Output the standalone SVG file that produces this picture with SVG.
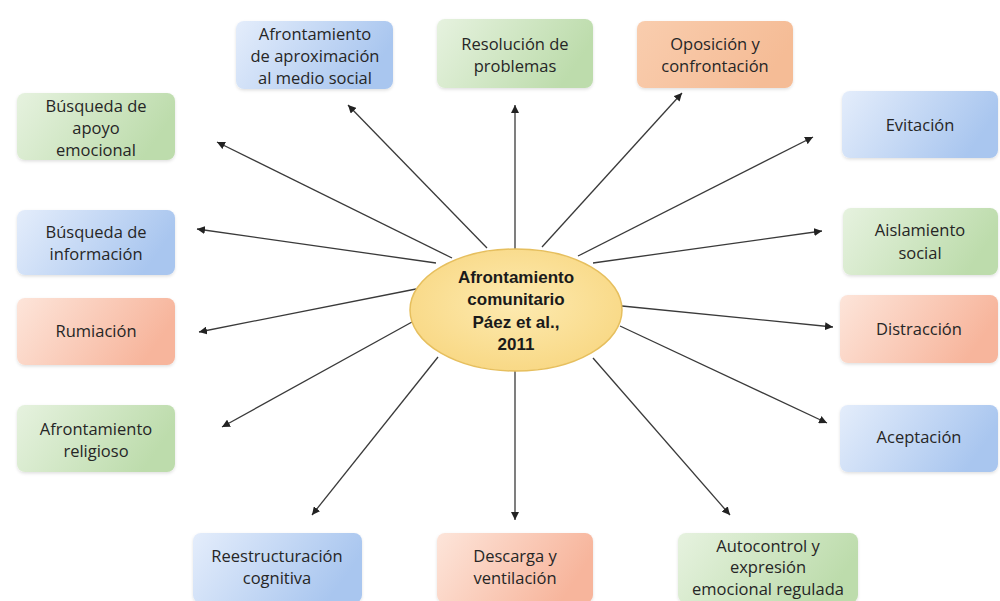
<svg xmlns="http://www.w3.org/2000/svg" width="1000" height="601" viewBox="0 0 1000 601">
  <defs>
    <linearGradient id="gBlue" x1="0" y1="0" x2="1" y2="0.3">
      <stop offset="0" stop-color="#e4edfb"/>
      <stop offset="1" stop-color="#a9c6ef"/>
    </linearGradient>
    <linearGradient id="gGreen" x1="0" y1="0" x2="1" y2="0.3">
      <stop offset="0" stop-color="#e6f2df"/>
      <stop offset="1" stop-color="#bddcac"/>
    </linearGradient>
    <linearGradient id="gRed" x1="0" y1="0" x2="1" y2="0.3">
      <stop offset="0" stop-color="#fde5da"/>
      <stop offset="1" stop-color="#f7b59c"/>
    </linearGradient>
    <linearGradient id="gPeach" x1="0" y1="0" x2="1" y2="0.3">
      <stop offset="0" stop-color="#f9cdae"/>
      <stop offset="1" stop-color="#f5bc96"/>
    </linearGradient>
    <radialGradient id="gCore" cx="0.5" cy="0.45" r="0.6">
      <stop offset="0" stop-color="#fdeab0"/>
      <stop offset="1" stop-color="#f8d782"/>
    </radialGradient>
    <filter id="soft" x="-10%" y="-10%" width="120%" height="130%">
      <feDropShadow dx="0" dy="1.5" stdDeviation="1.5" flood-color="#000" flood-opacity="0.12"/>
    </filter>
    <marker id="arrow" viewBox="0 0 10 10" refX="10" refY="5" markerWidth="8" markerHeight="8" markerUnits="userSpaceOnUse" orient="auto">
      <path d="M0,0 L10,5 L0,10 z" fill="#222"/>
    </marker>
  </defs>
  <style>
    .box { stroke: none; filter: url(#soft); }
    .blue { fill: url(#gBlue); }
    .green { fill: url(#gGreen); }
    .red { fill: url(#gRed); }
    .peach { fill: url(#gPeach); }
    .lbl { font-family: "Open Sans", "Liberation Sans", sans-serif; font-size: 16.5px; font-weight: 500; fill: #262626; text-anchor: middle; }
    .core { font-family: "Liberation Sans", "DejaVu Sans", sans-serif; font-size: 17px; font-weight: bold; fill: #1a1a1a; text-anchor: middle; }
    .link { stroke: #3a3a3a; stroke-width: 1.3; fill: none; marker-end: url(#arrow); }
  </style>

  <rect width="1000" height="601" fill="#ffffff"/>

  <!-- connectors from the central ellipse to each strategy -->
  <g id="connectors">
    <line class="link" x1="487" y1="248" x2="348" y2="105"/>
    <line class="link" x1="452" y1="258" x2="217" y2="142"/>
    <line class="link" x1="515" y1="249" x2="515" y2="105"/>
    <line class="link" x1="542" y1="247" x2="682" y2="93"/>
    <line class="link" x1="578" y1="256" x2="813" y2="137"/>
    <line class="link" x1="436" y1="263" x2="197" y2="229"/>
    <line class="link" x1="416" y1="289" x2="199" y2="332"/>
    <line class="link" x1="593" y1="263" x2="822" y2="231"/>
    <line class="link" x1="622" y1="306" x2="833" y2="327"/>
    <line class="link" x1="620" y1="326" x2="827" y2="423"/>
    <line class="link" x1="593" y1="358" x2="730" y2="515"/>
    <line class="link" x1="515" y1="371" x2="515" y2="520"/>
    <line class="link" x1="438" y1="357" x2="312" y2="515"/>
    <line class="link" x1="412" y1="322" x2="222" y2="427"/>
  </g>

  <g id="core">
    <ellipse cx="516" cy="310" rx="106" ry="61" fill="url(#gCore)" stroke="#e6bf5e" stroke-width="1.5"/>
    <text class="core" x="516" y="283">Afrontamiento</text>
    <text class="core" x="516" y="305">comunitario</text>
    <text class="core" x="516" y="328">Páez et al.,</text>
    <text class="core" x="516" y="350">2011</text>
  </g>

  <g id="aproximacion">
    <rect class="box blue" x="236" y="21" width="157" height="68" rx="8"/>
    <text class="lbl" x="315" y="40">Afrontamiento</text>
    <text class="lbl" x="315" y="62">de aproximación</text>
    <text class="lbl" x="315" y="84">al medio social</text>
  </g>

  <g id="resolucion">
    <rect class="box green" x="437" y="19" width="156" height="69" rx="8"/>
    <text class="lbl" x="515" y="50">Resolución de</text>
    <text class="lbl" x="515" y="72">problemas</text>
  </g>

  <g id="oposicion">
    <rect class="box peach" x="637" y="21" width="156" height="67" rx="8"/>
    <text class="lbl" x="715" y="50">Oposición y</text>
    <text class="lbl" x="715" y="72">confrontación</text>
  </g>

  <g id="evitacion">
    <rect class="box blue" x="842" y="91" width="156" height="67" rx="8"/>
    <text class="lbl" x="920" y="131">Evitación</text>
  </g>

  <g id="apoyo-emocional">
    <rect class="box green" x="17" y="93" width="158" height="67" rx="8"/>
    <text class="lbl" x="96" y="112">Búsqueda de</text>
    <text class="lbl" x="96" y="134">apoyo</text>
    <text class="lbl" x="96" y="156">emocional</text>
  </g>

  <g id="informacion">
    <rect class="box blue" x="17" y="210" width="158" height="65" rx="8"/>
    <text class="lbl" x="96" y="238">Búsqueda de</text>
    <text class="lbl" x="96" y="260">información</text>
  </g>

  <g id="rumiacion">
    <rect class="box red" x="17" y="298" width="158" height="67" rx="8"/>
    <text class="lbl" x="96" y="337">Rumiación</text>
  </g>

  <g id="aislamiento">
    <rect class="box green" x="843" y="208" width="155" height="67" rx="8"/>
    <text class="lbl" x="920" y="236">Aislamiento</text>
    <text class="lbl" x="920" y="259">social</text>
  </g>

  <g id="distraccion">
    <rect class="box red" x="840" y="295" width="158" height="68" rx="8"/>
    <text class="lbl" x="919" y="335">Distracción</text>
  </g>

  <g id="religioso">
    <rect class="box green" x="17" y="405" width="158" height="67" rx="8"/>
    <text class="lbl" x="96" y="435">Afrontamiento</text>
    <text class="lbl" x="96" y="457">religioso</text>
  </g>

  <g id="aceptacion">
    <rect class="box blue" x="840" y="405" width="158" height="67" rx="8"/>
    <text class="lbl" x="919" y="443">Aceptación</text>
  </g>

  <g id="reestructuracion">
    <rect class="box blue" x="193" y="533" width="169" height="70" rx="8"/>
    <text class="lbl" x="277" y="562">Reestructuración</text>
    <text class="lbl" x="277" y="584">cognitiva</text>
  </g>

  <g id="descarga">
    <rect class="box red" x="437" y="533" width="156" height="70" rx="8"/>
    <text class="lbl" x="515" y="562">Descarga y</text>
    <text class="lbl" x="515" y="584">ventilación</text>
  </g>

  <g id="autocontrol">
    <rect class="box green" x="678" y="533" width="180" height="70" rx="8"/>
    <text class="lbl" x="768" y="552">Autocontrol y</text>
    <text class="lbl" x="768" y="573">expresión</text>
    <text class="lbl" x="768" y="595">emocional regulada</text>
  </g>
</svg>
